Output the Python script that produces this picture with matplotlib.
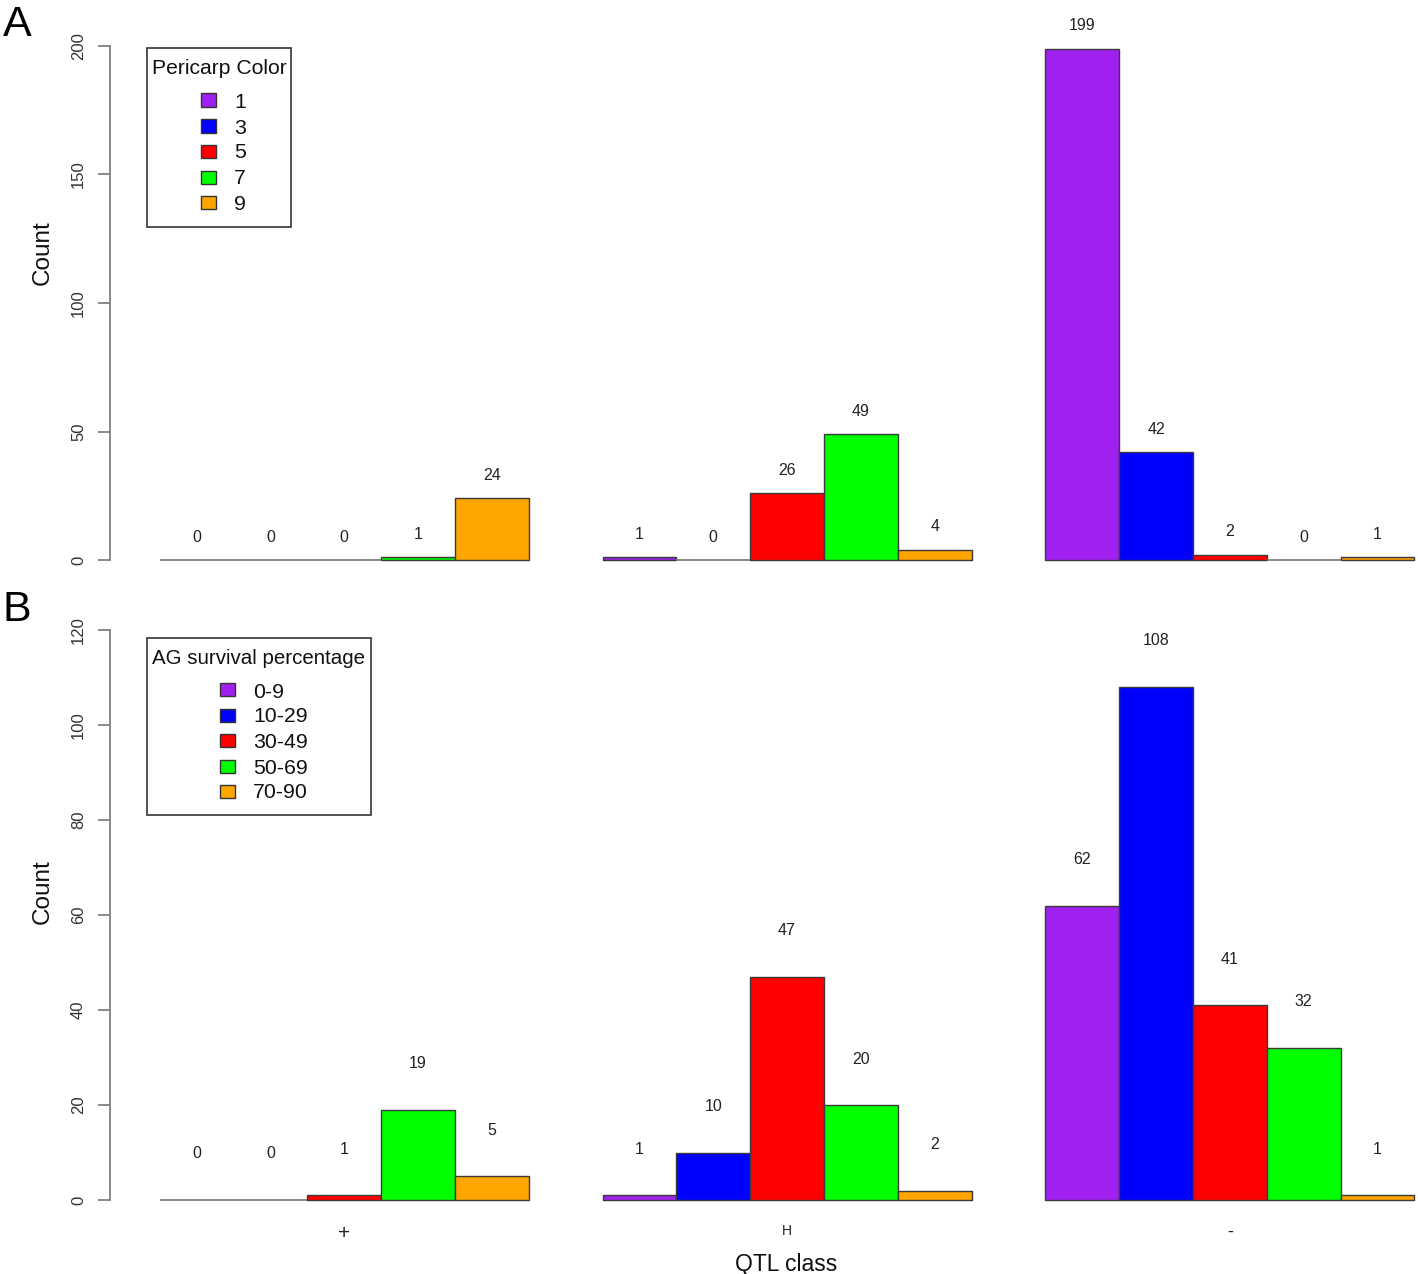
import matplotlib
matplotlib.use("Agg")
import matplotlib.pyplot as plt
from matplotlib.patches import Rectangle
import numpy as np

plt.rcParams['font.family'] = ['Liberation Sans', 'DejaVu Sans']

# ---------------- data ----------------
qtl_classes = ["+", "H", "-"]
pericarp_levels = ["1", "3", "5", "7", "9"]
pericarp_counts = [  # rows: QTL class, cols: pericarp level
    [0, 0, 0, 1, 24],
    [1, 0, 26, 49, 4],
    [199, 42, 2, 0, 1],
]
ag_levels = ["0-9", "10-29", "30-49", "50-69", "70-90"]
ag_counts = [
    [0, 0, 1, 19, 5],
    [1, 10, 47, 20, 2],
    [62, 108, 41, 32, 1],
]
bar_colors = ["#A020F0", "#0000FF", "#FF0000", "#00FF00", "#FFA500"]
panel_A_title = "Pericarp Color"
panel_B_title = "AG survival percentage"

W, H = 1418, 1274
fig = plt.figure(figsize=(W / 100, H / 100), dpi=100)


def fx(px):
    return px / W


def fy(py):
    return 1 - py / H


def make_axes(top_px, bottom_px):
    left = 109.6
    return fig.add_axes([fx(left), fy(bottom_px), fx(W - left), (bottom_px - top_px) / H])


def draw_panel(ax, counts, ylim, ymax_axis, ystep, label_off):
    ngroups = len(counts)
    nlev = len(counts[0])
    for g in range(ngroups):
        for i in range(nlev):
            x = 1.5 + g * (nlev + 1) + i
            v = counts[g][i]
            if v > 0:
                ax.bar(x, v, width=1.0, color=bar_colors[i], edgecolor="#3a3a3a",
                       linewidth=1.0, zorder=2)
            else:
                ax.plot([x - 0.5, x + 0.5], [0, 0], color="#7f7f7f", lw=1.3, zorder=2,
                        solid_capstyle="butt")
            ax.text(x, v + label_off, str(v), ha="center", va="center_baseline",
                    fontsize=11.5, color="#222222")
    ax.set_xlim(0.32, 18.05)
    ax.set_ylim(*ylim)
    for s in ["top", "right", "bottom"]:
        ax.spines[s].set_visible(False)
    ax.spines["left"].set_bounds(0, ymax_axis)
    ax.spines["left"].set_color("#808080")
    ax.spines["left"].set_linewidth(1.3)
    ax.set_yticks(np.arange(0, ymax_axis + 1, ystep))
    ax.tick_params(axis="y", length=9, width=1.3, color="#808080", pad=8,
                   labelsize=12, labelcolor="#333333")
    for t in ax.get_yticklabels():
        t.set_rotation(90)
        t.set_va("center")
    ax.patch.set_alpha(0)


axA = make_axes(25.4, 580.6)
draw_panel(axA, pericarp_counts, (-8, 208), 200, 50, 9.5)
axA.set_xticks([])

axB = make_axes(607.2, 1222.8)
draw_panel(axB, ag_counts, (-4.8, 124.8), 120, 20, 10)
centers = [1.5 + g * 6 + 2 for g in range(3)]
axB.set_xticks(centers)
axB.set_xticklabels(qtl_classes, color="#222222")
axB.tick_params(axis="x", length=0, pad=1)
for t, fs in zip(axB.get_xticklabels(), [15, 10, 13]):
    t.set_fontsize(fs)


def draw_legend(box, title, title_xy, labels, sq_x, label_x, rows_y, fs_title, fs_lab):
    x0, y0, x1, y1 = box
    fig.add_artist(Rectangle((fx(x0), fy(y1)), fx(x1 - x0), (y1 - y0) / H,
                             transform=fig.transFigure, fill=False,
                             edgecolor="#333333", linewidth=1.2))
    fig.text(fx(title_xy[0]), fy(title_xy[1]), title, ha="center", va="center_baseline",
             fontsize=fs_title, color="#111111")
    for lab, col, yy in zip(labels, bar_colors, rows_y):
        fig.add_artist(Rectangle((fx(sq_x), fy(yy + 6.5)), fx(15), 13 / H,
                                 transform=fig.transFigure, facecolor=col,
                                 edgecolor="#333333", linewidth=1.0))
        fig.text(fx(label_x), fy(yy), lab, ha="left", va="center_baseline",
                 fontsize=fs_lab, color="#111111")


draw_legend((147, 48, 291, 227), panel_A_title, (219, 67), pericarp_levels,
            201, 234, [100, 126, 151, 177, 202], 15.2, 15.3)
draw_legend((147, 638, 371, 815), panel_B_title, (259, 657), ag_levels,
            220, 253, [690, 715, 740, 766, 791], 14.8, 15.3)

fig.text(fx(43), fy(253), "Count", rotation=90, ha="center", va="center",
         fontsize=17.5, color="#111111")
fig.text(fx(43), fy(892), "Count", rotation=90, ha="center", va="center",
         fontsize=17.5, color="#111111")
fig.text(fx(786), fy(1262), "QTL class", ha="center", va="center_baseline",
         fontsize=16.5, color="#111111")
fig.text(fx(17), fy(21), "A", ha="center", va="center_baseline", fontsize=31, color="black")
fig.text(fx(17), fy(605), "B", ha="center", va="center_baseline", fontsize=31, color="black")

fig.savefig("out.png", dpi=100)
